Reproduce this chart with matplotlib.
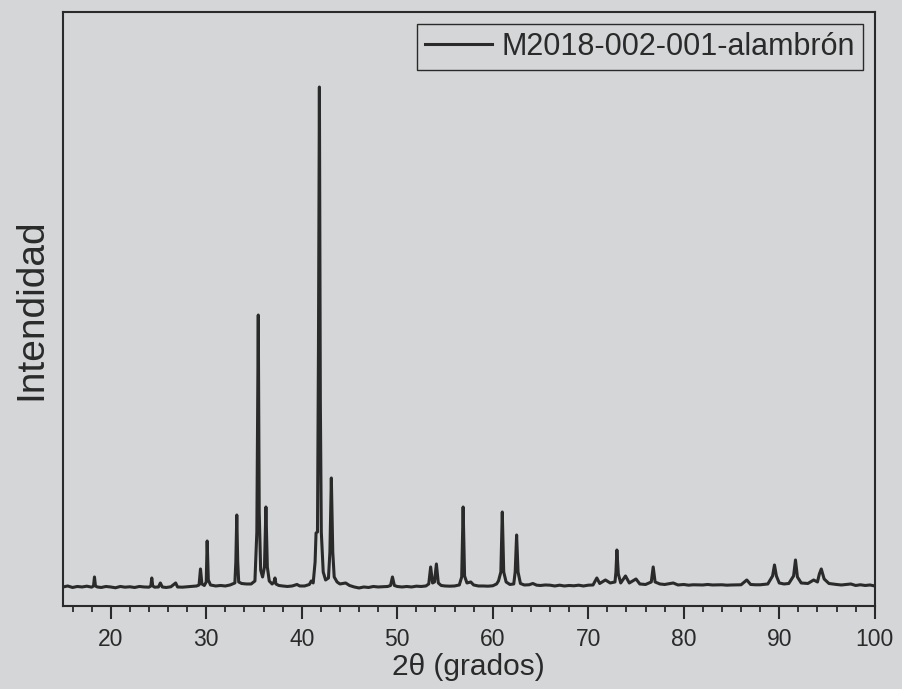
#!/usr/bin/env python3

import matplotlib
matplotlib.use('Agg')
import matplotlib.pyplot as plt
from matplotlib.ticker import MultipleLocator

# XRD trace, vertices (2theta in degrees, counts)
two_theta = [
    15.0, 15.5, 16.0, 16.5, 17.0, 17.5, 18.0, 18.2, 18.3, 18.4, 18.6, 19.0,
    19.5, 20.0, 20.5, 21.0, 21.5, 22.0, 22.5, 23.0, 23.5, 24.0, 24.2, 24.3,
    24.4, 24.6, 25.0, 25.2, 25.4, 25.8, 26.3, 26.8, 27.0, 27.5, 28.0, 28.5,
    29.0, 29.25, 29.4, 29.55, 29.8, 30.0, 30.1, 30.22, 30.45, 31.0, 31.5,
    32.0, 32.5, 33.0, 33.1, 33.2, 33.3, 33.4, 33.7, 34.2, 34.7, 35.1, 35.3,
    35.45, 35.55, 35.7, 35.9, 36.1, 36.25, 36.4, 36.6, 36.9, 37.1, 37.2,
    37.3, 37.6, 38.0, 38.5, 39.0, 39.5, 39.8, 40.3, 40.8, 41.0, 41.2, 41.4,
    41.5, 41.65, 41.75, 41.85, 41.95, 42.05, 42.25, 42.5, 42.8, 42.95, 43.1,
    43.25, 43.4, 43.7, 44.0, 44.6, 45.0, 45.5, 46.0, 46.5, 47.0, 47.5, 48.0,
    48.5, 49.0, 49.3, 49.5, 49.7, 50.0, 50.5, 51.0, 51.5, 52.0, 52.5, 53.0,
    53.3, 53.5, 53.7, 53.9, 54.1, 54.3, 54.6, 55.0, 55.5, 56.0, 56.5, 56.75,
    56.9, 57.05, 57.3, 57.7, 58.0, 58.5, 59.0, 59.5, 60.0, 60.4, 60.6, 60.85,
    61.0, 61.15, 61.4, 61.8, 62.2, 62.35, 62.5, 62.65, 62.9, 63.3, 63.8,
    64.2, 64.6, 65.0, 65.5, 66.0, 66.5, 67.0, 67.5, 68.0, 68.5, 69.0, 69.5,
    70.0, 70.5, 70.9, 71.2, 71.8, 72.3, 72.8, 72.9, 73.0, 73.15, 73.4, 73.9,
    74.3, 75.0, 75.4, 76.0, 76.6, 76.8, 77.0, 77.5, 78.0, 78.9, 79.4, 80.0,
    80.5, 81.0, 82.0, 82.5, 83.0, 84.0, 84.5, 85.0, 86.0, 86.6, 87.0, 87.5,
    88.0, 88.8, 89.3, 89.5, 89.7, 90.0, 90.5, 91.0, 91.5, 91.7, 91.9, 92.3,
    93.0, 93.6, 94.0, 94.2, 94.4, 94.7, 95.2, 96.0, 96.5, 97.5, 98.0, 98.5,
    99.0, 99.5, 100.0,
]
intensity = [
    150, 160, 145, 155, 150, 158, 148, 160, 250, 160, 150, 145,
    155, 150, 142, 155, 148, 152, 145, 155, 150, 148, 160, 240,
    160, 148, 150, 190, 150, 145, 152, 190, 150, 148, 152, 155,
    160, 170, 330, 180, 165, 200, 610, 220, 170, 160, 165,
    160, 170, 190, 400, 870, 400, 200, 185, 180, 180, 210, 700,
    2870, 900, 320, 250, 350, 950, 350, 210, 180, 200, 240,
    180, 165, 160, 155, 160, 175, 160, 160, 175, 210, 190, 400,
    690, 700, 2500, 5150, 2000, 700, 300, 220, 240, 500, 1240,
    500, 250, 200, 180, 190, 165, 150, 140, 150, 145, 155, 150,
    152, 155, 165, 250, 165, 155, 150, 155, 150, 158, 155, 160,
    180, 350, 190, 200, 380, 190, 165, 160, 158, 160, 170, 250,
    950, 260, 190, 200, 170, 160, 160, 158, 162, 180, 210, 300,
    900, 300, 200, 175, 180, 300, 670, 300, 185, 170, 172,
    185, 168, 165, 170, 168, 160, 168, 160, 165, 162, 168, 160,
    168, 170, 240, 185, 220, 190, 200, 300, 520, 280, 190, 260,
    190, 230, 180, 175, 200, 350, 200, 180, 175, 190, 170, 175,
    168, 172, 170, 175, 170, 172, 168, 170, 172, 220, 175, 172,
    172, 180, 260, 370, 260, 190, 180, 185, 260, 420, 250, 190,
    185, 220, 200, 280, 330, 230, 185, 175, 170, 180, 165, 172,
    165, 170, 160,
]

series_label = 'M2018-002-001-alambrón'
x_label = '2\u03b8 (grados)'
y_label = 'Intendidad'

paper = '#d4d6d7'
ink = '#2a2a2a'


def main():
    plt.rcParams['font.family'] = ['Liberation Sans', 'DejaVu Sans']

    fig = plt.figure(figsize=(9.02, 6.89), dpi=100, facecolor=paper)
    ax = fig.add_axes([0.0698, 0.1205, 0.900, 0.862], facecolor=paper)

    ax.plot(two_theta, intensity, color=ink, lw=2.2, label=series_label)

    ax.set_xlim(15, 100)
    ax.set_ylim(-40, 5900)

    ax.xaxis.set_major_locator(MultipleLocator(10))
    ax.xaxis.set_minor_locator(MultipleLocator(2))
    ax.tick_params(axis='x', which='major', direction='out', length=9,
                   width=1.5, colors=ink, labelsize=16.5, pad=7)
    ax.tick_params(axis='x', which='minor', direction='out', length=4,
                   width=1.3, colors=ink)
    ax.set_yticks([])

    for spine in ax.spines.values():
        spine.set_color(ink)
        spine.set_linewidth(1.5)

    ax.set_xlabel(x_label, fontsize=21.5, color=ink, labelpad=1)
    ax.set_ylabel(y_label, fontsize=28, color=ink, labelpad=10)

    leg = ax.legend(loc='upper right', fontsize=22, frameon=True,
                    fancybox=False, handlelength=2.2, handletextpad=0.3,
                    borderpad=0.25, borderaxespad=0.4)
    leg.get_frame().set_edgecolor(ink)
    leg.get_frame().set_facecolor(paper)
    leg.get_frame().set_linewidth(1.0)
    leg.get_frame().set_alpha(1.0)
    for text in leg.get_texts():
        text.set_color(ink)

    plt.savefig('out.png', dpi=100, facecolor=paper)


if __name__ == "__main__":
    main()
